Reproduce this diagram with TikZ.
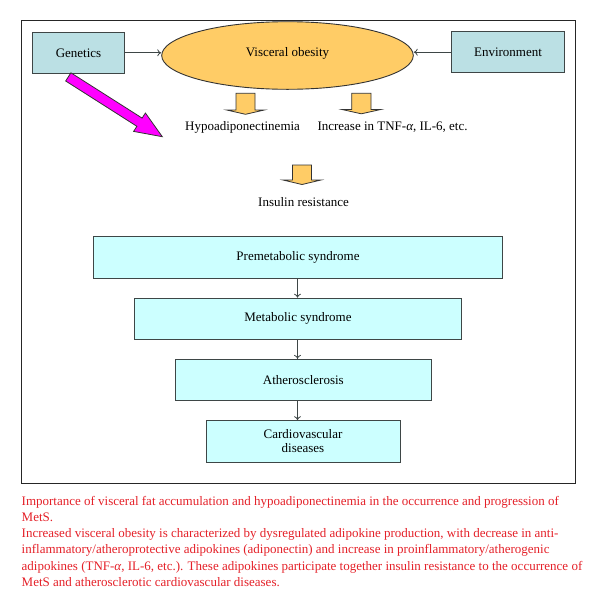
\documentclass[tikz,border=0pt]{standalone}
\usepackage{fontspec}
\setmainfont{Liberation Serif}
\usetikzlibrary{arrows.meta,shapes.geometric}
\definecolor{tealfill}{RGB}{187,224,228}
\definecolor{cyanfill}{RGB}{204,255,255}
\definecolor{goldfill}{RGB}{255,204,102}
\definecolor{edgegray}{RGB}{62,70,70}
\definecolor{capred}{RGB}{228,32,40}
\definecolor{magfill}{RGB}{255,0,255}
\begin{document}
\begin{tikzpicture}[x=1pt,y=-1pt,
  lbl/.style={font=\fontsize{13}{15}\selectfont, inner sep=0pt},
  sidebox/.style={lbl, draw=edgegray, fill=tealfill, line width=0.9pt, minimum width=91.6pt, minimum height=41pt},
  flowbox/.style={lbl, draw=edgegray, fill=cyanfill, line width=0.9pt, minimum height=41.3pt, align=center},
  conn/.style={draw=edgegray, line width=0.8pt, -{To[length=4pt,width=7pt]}},
  blockarrow/.style={draw=black!80, fill=goldfill, line width=0.8pt, line join=miter},
  bigarrow/.style={draw=black!80, fill=magfill, line width=0.8pt, line join=miter},
  caption/.style={font=\fontsize{13}{16.2}\selectfont, text=capred, align=left, inner sep=0pt}
]
\useasboundingbox (0,0) rectangle (600,611);
% frame
\draw[line width=1pt, draw=black!85] (21.5,20.5) rectangle (575,483);

% top row
\node[sidebox] (gen) at (78.5,52.8) {Genetics};
\node[sidebox, minimum width=112.6pt] (env) at (508,52.2) {Environment};
\node[lbl, ellipse, draw=black!80, fill=goldfill, line width=0.9pt, minimum width=251.6pt, minimum height=67.6pt, text height=8.8pt, text depth=6.4pt] (vis) at (287.5,55.5) {Visceral obesity};
\draw[conn] (gen.east) -- (gen.east -| vis.west);
\draw[conn] (env.west) -- (env.west -| vis.east);

% magenta arrow
\filldraw[bigarrow] (65.7,81.0) -- (70.9,72.8) -- (142.1,118.1) -- (145.4,113.0) -- (162.3,136.7) -- (133.6,131.4) -- (136.9,126.3) -- cycle;

% block arrows
\filldraw[blockarrow] (236,93.3) -- (255,93.3) -- (255,110) -- (264.3,110) -- (245.5,114.3) -- (226.7,110) -- (236,110) -- cycle;
\filldraw[blockarrow] (351.7,93.3) -- (371,93.3) -- (371,109.5) -- (380.7,109.5) -- (361.3,113.8) -- (342,109.5) -- (351.7,109.5) -- cycle;
\filldraw[blockarrow] (292.5,165) -- (311.5,165) -- (311.5,180) -- (321,180) -- (302,184.5) -- (283,180) -- (292.5,180) -- cycle;

% texts
\node[lbl, anchor=base west] (hypo) at (185,130) {Hypoadiponectinemia};
\node[lbl, anchor=base west] (tnf) at (317.3,130) {Increase in TNF-\textit{α}, IL-6, etc.};
\node[lbl, anchor=base west] (ins) at (258,206) {Insulin resistance};

% flow boxes
\node[flowbox, minimum width=409.4pt] (pre) at (298,257.5) {Premetabolic syndrome};
\node[flowbox, minimum width=327.4pt] (met) at (298,318.8) {Metabolic syndrome};
\node[flowbox, minimum width=255.3pt] (ath) at (303.3,380) {Atherosclerosis};
\node[flowbox, minimum width=194pt, font=\fontsize{13}{14}\selectfont] (cvd) at (303,441.3) {Cardiovascular\\diseases};
\coordinate (ax) at (297.5,0);
\draw[conn] (pre.south -| ax) -- (met.north -| ax);
\draw[conn] (met.south -| ax) -- (ath.north -| ax);
\draw[conn] (ath.south -| ax) -- (cvd.north -| ax);

% caption
\node[caption, anchor=north west] (cap) at (21.5,496) {Importance of visceral fat accumulation and hypoadiponectinemia in the occurrence and progression of\\ MetS.\\ Increased visceral obesity is characterized by dysregulated adipokine production, with decrease in anti-\\ inflammatory/atheroprotective adipokines (adiponectin) and increase in proinflammatory/atherogenic\\ adipokines (TNF-\textit{α}, IL-6, etc.). These adipokines participate together insulin resistance to the occurrence of\\ MetS and atherosclerotic cardiovascular diseases.};
\end{tikzpicture}
\end{document}
